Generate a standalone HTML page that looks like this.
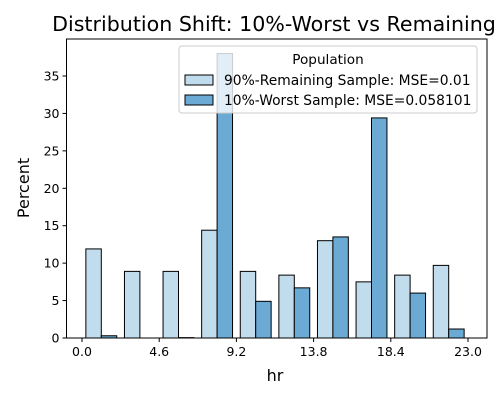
<!DOCTYPE html>
<html><head><meta charset="utf-8"><style>
body{margin:0;background:#fff;width:500px;height:400px;overflow:hidden}
svg{font-family:"DejaVu Sans","Liberation Sans",sans-serif}
</style></head><body>
<svg id="chart" width="500" height="400">
<text x="274" y="31" text-anchor="middle" font-size="20.6">Distribution Shift: 10%-Worst vs Remaining</text>
<g id="bars"></g>
<g id="axes"></g>
<text x="275" y="381" text-anchor="middle" font-size="16">hr</text>
<text transform="translate(29,188) rotate(-90)" text-anchor="middle" font-size="16">Percent</text>
<g>
<rect x="179" y="46" width="298" height="67" rx="3" fill="#fff" fill-opacity="0.8" stroke="#ccc"/>
<text x="328" y="64" text-anchor="middle" font-size="13.6">Population</text>
<rect x="185" y="75" width="28" height="10" fill="#c1dcec" stroke="#000"/>
<text x="224" y="85" font-size="13.85">90%-Remaining Sample: MSE=0.01</text>
<rect x="185" y="95" width="28" height="10" fill="#6aaad4" stroke="#000"/>
<text x="224" y="105" font-size="13.85">10%-Worst Sample: MSE=0.058101</text>
</g>
</svg>
<script>
const binStarts=[0,2.3,4.6,6.9,9.2,11.5,13.8,16.1,18.4,20.7];
const remaining=[11.9,8.9,8.9,14.4,8.9,8.4,13.0,7.5,8.4,9.7];
const worst=[0.3,0,0.05,38.0,4.9,6.7,13.5,29.4,6.0,1.2];
const xTicks=[0.0,4.6,9.2,13.8,18.4,23.0];
const yTicks=[0,5,10,15,20,25,30,35];
const binW=2.3;
const L=66.5,R=487,T=39,B=338;
const x=v=>82+v*(468-82)/23;
const y=v=>B-v*(B-76)/35;
const NS="http://www.w3.org/2000/svg";
const bars=document.getElementById('bars'),axes=document.getElementById('axes');
function mk(tag,attrs,parent){const e=document.createElementNS(NS,tag);for(const k in attrs)e.setAttribute(k,attrs[k]);parent.appendChild(e);return e;}
binStarts.forEach((s,i)=>{
  const x0=x(s),w=(x(s+binW)-x0)*0.8,c=x0+(x(s+binW)-x0)/2;
  const a=mk('rect',{x:c-w/2,y:y(remaining[i]),width:w/2,height:y(0)-y(remaining[i]),fill:'#c1dcec',stroke:'#000','stroke-width':1},bars);
  
  
  if(worst[i]>0){
  const b=mk('rect',{x:c,y:y(worst[i]),width:w/2,height:y(0)-y(worst[i]),fill:'#6aaad4',stroke:'#000','stroke-width':1},bars);
  
  }
});
const fr=mk('rect',{x:L,y:T,width:R-L,height:B-T,fill:'none',stroke:'#000','stroke-width':1},axes);


xTicks.forEach(t=>{
  mk('line',{x1:x(t),x2:x(t),y1:B,y2:B+4,stroke:'#000'},axes);
  const tx=mk('text',{x:x(t),y:B+18,'text-anchor':'middle','font-size':12.5},axes);tx.textContent=t.toFixed(1);
  
  
});
yTicks.forEach(t=>{
  mk('line',{x1:L-4,x2:L,y1:y(t),y2:y(t),stroke:'#000'},axes);
  const tx=mk('text',{x:L-7,y:y(t)+4.5,'text-anchor':'end','font-size':12.5},axes);tx.textContent=t;
  
  
});
</script>
</body></html>
